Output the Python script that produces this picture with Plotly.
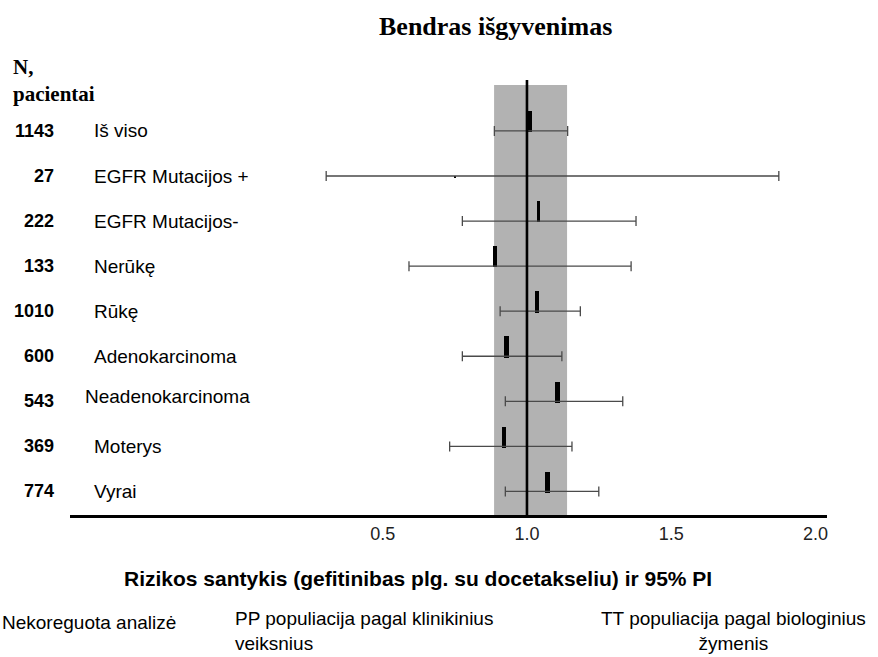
import plotly.graph_objects as go

# ---- data ----
N_PATIENTS = [1143, 27, 222, 133, 1010, 600, 543, 369, 774]
SUBGROUPS = ["Iš viso", "EGFR Mutacijos +", "EGFR Mutacijos-", "Nerūkę", "Rūkę",
             "Adenokarcinoma", "Neadenokarcinoma", "Moterys", "Vyrai"]
HR = [1.01, 0.75, 1.04, 0.89, 1.035, 0.93, 1.105, 0.92, 1.07]
CI_LOW = [0.887, 0.304, 0.776, 0.591, 0.907, 0.776, 0.925, 0.732, 0.925]
CI_HIGH = [1.141, 1.873, 1.378, 1.361, 1.185, 1.121, 1.332, 1.156, 1.249]
OVERALL_CI = [0.886, 1.139]
REF_VALUE = 1.0
TICK_VALS = [0.5, 1.0, 1.5, 2.0]
TICK_TEXT = ["0.5", "1.0", "1.5", "2.0"]
TITLE = "Bendras išgyvenimas"
N_HEADER = "N,<br>pacientai"
X_TITLE = "Rizikos santykis (gefitinibas plg. su docetakseliu) ir 95% PI"
LEGEND_TEXTS = ["Nekoreguota analizė",
                "PP populiacija pagal klinikinius<br>veiksnius",
                "TT populiacija pagal biologinius<br>žymenis"]

# ---- layout geometry (pixels) ----
WIDTH, HEIGHT = 878, 657
ML, MR, MT, MB = 70, 51, 80, 142
PW = WIDTH - ML - MR
PH = HEIGHT - MT - MB
X_RANGE = [-0.584, 2.04]
Y_RANGE = [0.478, 10.13]

def xp(px):
    return (px - ML) / PW

def yp(py):
    return (HEIGHT - MB - py) / PH

n_rows = len(SUBGROUPS)
row_y = [n_rows - i for i in range(n_rows)]

# marker styling (not data)
MARKER_W = [0.017, 0.004, 0.008, 0.015, 0.016, 0.016, 0.016, 0.014, 0.017]
MARKER_H = [0.47, 0.04, 0.47, 0.47, 0.47, 0.47, 0.47, 0.47, 0.47]

SANS = "Liberation Sans, Arial"
SERIF = "Liberation Serif, Times New Roman"

fig = go.Figure()

# confidence intervals
fig.add_trace(go.Scatter(
    x=HR, y=row_y, mode="markers",
    marker=dict(size=1, color="rgba(0,0,0,0)"),
    error_x=dict(type="data", symmetric=False,
                 array=[h - m for h, m in zip(CI_HIGH, HR)],
                 arrayminus=[m - l for m, l in zip(HR, CI_LOW)],
                 color="#4a4a4a", thickness=1.3, width=5),
    hoverinfo="skip", showlegend=False,
))

# point estimates as small vertical blocks
fig.add_trace(go.Bar(
    x=HR, y=MARKER_H, base=[y - 0.03 for y in row_y], width=MARKER_W,
    marker=dict(color="black", line=dict(width=0)),
    hoverinfo="skip", showlegend=False,
))

# overall CI band
fig.add_shape(type="rect", xref="x", yref="y",
              x0=OVERALL_CI[0], x1=OVERALL_CI[1], y0=Y_RANGE[0], y1=10.02,
              fillcolor="#b2b2b2", line=dict(width=0), layer="below")
# reference line
fig.add_shape(type="line", xref="x", yref="y",
              x0=REF_VALUE, x1=REF_VALUE, y0=Y_RANGE[0], y1=Y_RANGE[1],
              line=dict(color="black", width=2.6), layer="above")

annotations = []
for n, lab, y in zip(N_PATIENTS, SUBGROUPS, row_y):
    annotations.append(dict(x=xp(56), y=y, xref="paper", yref="y",
                            text=f"<b>{n}</b>", showarrow=False,
                            xanchor="right", yanchor="middle",
                            font=dict(family=SANS, size=18, color="black")))
    lx = 83 if lab == "Neadenokarcinoma" else 92
    ly = y + 0.1 if lab == "Neadenokarcinoma" else y
    annotations.append(dict(x=xp(lx), y=ly, xref="paper", yref="y",
                            text=lab, showarrow=False,
                            xanchor="left", yanchor="middle",
                            font=dict(family=SANS, size=19, color="black")))

annotations.append(dict(x=xp(495), y=yp(27), xref="paper", yref="paper",
                        text=f"<b>{TITLE}</b>", showarrow=False,
                        xanchor="center", yanchor="middle",
                        font=dict(family=SERIF, size=26, color="black")))
annotations.append(dict(x=xp(11), y=yp(80), xref="paper", yref="paper",
                        text=f"<b>{N_HEADER}</b>", showarrow=False, align="left",
                        xanchor="left", yanchor="middle",
                        font=dict(family=SERIF, size=21, color="black")))
annotations.append(dict(x=xp(418), y=yp(578), xref="paper", yref="paper",
                        text=f"<b>{X_TITLE}</b>", showarrow=False,
                        xanchor="center", yanchor="middle",
                        font=dict(family=SANS, size=21, color="black")))
annotations.append(dict(x=xp(0), y=yp(622), xref="paper", yref="paper",
                        text=LEGEND_TEXTS[0], showarrow=False, align="left",
                        xanchor="left", yanchor="middle",
                        font=dict(family=SANS, size=19, color="black")))
annotations.append(dict(x=xp(233), y=yp(631), xref="paper", yref="paper",
                        text=LEGEND_TEXTS[1], showarrow=False, align="left",
                        xanchor="left", yanchor="middle",
                        font=dict(family=SANS, size=19, color="black")))
annotations.append(dict(x=xp(733), y=yp(631), xref="paper", yref="paper",
                        text=LEGEND_TEXTS[2], showarrow=False, align="center",
                        xanchor="center", yanchor="middle",
                        font=dict(family=SANS, size=19, color="black")))

fig.update_layout(
    width=WIDTH, height=HEIGHT,
    margin=dict(l=ML, r=MR, t=MT, b=MB),
    paper_bgcolor="white", plot_bgcolor="white",
    annotations=annotations,
    bargap=0,
    xaxis=dict(range=X_RANGE, tickvals=TICK_VALS, ticktext=TICK_TEXT,
               showgrid=False, zeroline=False, showline=True,
               linecolor="black", linewidth=2.5, ticks="",
               ticklabelstandoff=1,
               tickfont=dict(family=SANS, size=18, color="#222")),
    yaxis=dict(range=Y_RANGE, showgrid=False, zeroline=False,
               showline=False, showticklabels=False, ticks=""),
)

fig.write_html("out.html", config={"displayModeBar": False},
               post_script="document.body.style.margin='0px';document.body.style.padding='0px';")
